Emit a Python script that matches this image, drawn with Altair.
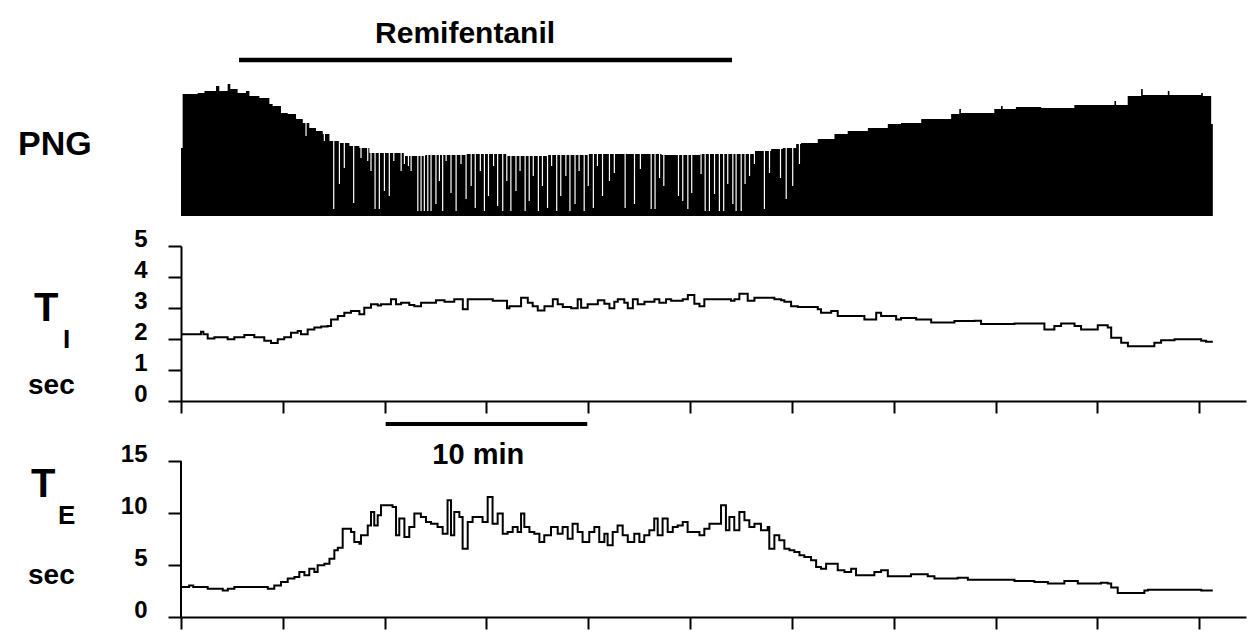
import altair as alt
import pandas as pd

FONT = "Liberation Sans"
XMAX = 52.3  # minutes covered by the time axis

# ---------------- PNG (integrated phrenic neurogram, arbitrary units) -------------
png_t = [0.0, 0.08, 0.82, 1.15, 1.72, 1.88, 2.29, 2.42, 2.78, 3.19, 3.36, 3.85, 4.34,
         4.5, 4.91, 5.24, 5.65, 5.98, 6.3, 6.63, 6.96, 7.29, 7.78, 8.27, 8.76, 9.25,
         10.97, 12.0, 14.0, 16.0, 18.0, 20.0, 23.6, 25.5, 28.16, 28.98, 29.55, 30.21,
         30.45, 31.27, 32.09, 32.74, 33.73, 34.71, 35.36, 36.35, 37.82, 38.22, 38.3,
         39.94, 40.27, 40.35, 41.0, 42.24, 43.87, 45.84, 45.92, 46.49, 47.15, 47.23,
         48.46, 48.54, 50.1, 50.18, 50.59, 50.67]
png_v = [68, 122, 123, 125, 130, 125, 132, 127, 123, 125, 120, 118, 112,
         110, 103, 102, 97, 93, 88, 85, 82, 75, 73, 70, 68, 63,
         60, 61, 62, 60, 61, 62, 61, 62, 65, 67, 68, 72,
         73, 77, 82, 85, 88, 92, 93, 97, 102, 107, 103,
         107, 110, 107, 109, 108, 111, 115, 111, 120, 127, 121,
         125, 121, 123, 120, 92, 92]

# white gaps between breaths (time, lower end of the gap)
gap_t = [6.14, 7.04, 7.5, 7.78, 8.02, 8.48, 8.84, 9.17, 9.33, 9.53, 9.74, 9.99, 10.23,
         10.45, 10.81, 10.97, 11.17, 11.3, 11.63, 11.79, 11.95, 12.12, 12.28, 12.52,
         12.69, 12.85, 13.02, 13.26, 13.51, 13.75, 14.0,
         14.25, 14.45, 14.7, 14.9, 15.1, 15.35, 15.55, 15.8, 16.0, 16.2, 16.45, 16.65,
         16.9, 17.1, 17.3, 17.55, 17.75, 18.0, 18.2, 18.45, 18.65, 18.9, 19.1, 19.35,
         19.55, 19.8, 20.0, 20.25, 20.45, 20.7,
         21.04, 21.28, 21.81, 22.27, 22.56, 23.09, 23.28, 23.5, 23.71, 24.43, 24.64,
         24.89, 25.08, 25.54, 25.74, 25.95, 26.2, 26.44, 26.65, 26.85, 27.1, 27.26,
         27.51, 27.7, 27.92, 28.16, 28.65, 28.9, 29.44, 29.72, 30.04, 30.37]
gap_low = [80, 75, 7, 32, 48, 13, 58, 55, 45, 7, 7, 25, 20,
           55, 45, 52, 50, 45, 5, 5, 5, 5, 5, 12,
           35, 5, 55, 23, 5, 52, 17,
           30, 8, 45, 5, 20, 50, 10, 5, 35, 5, 25, 45,
           5, 15, 40, 5, 30, 8, 50, 5, 20, 40, 5, 12,
           45, 5, 30, 8, 50, 20,
           35, 43, 8, 12, 47, 7, 7, 38, 30, 20, 15,
           7, 23, 42, 5, 5, 22, 5, 5, 32, 12, 5,
           5, 32, 40, 52, 7, 43, 38, 17, 30, 52]

# ---------------- T_I (s) ----------------
ti_t = [0.0, 0.98, 1.1, 1.31, 1.64, 2.29, 2.62, 3.11, 3.6, 4.09, 4.42, 4.75, 5.07,
        5.4, 5.73, 5.89, 6.22, 6.55, 6.88, 7.2, 7.37, 7.7, 8.02, 8.35, 8.76, 9.0,
        9.33, 9.66, 9.82, 10.31, 10.56, 10.81, 11.21, 11.46, 11.79, 12.52, 12.94,
        13.42, 13.84, 14.08, 15.31, 16.01, 16.13, 16.7, 17.03, 17.27, 17.52, 17.85,
        18.26, 18.5, 18.75, 19.16, 19.48, 19.65, 19.97, 20.47, 20.79, 21.04, 21.28,
        21.45, 21.77, 21.94, 22.19, 22.43, 22.76, 23.25, 23.49, 23.82, 24.07, 24.64,
        24.89, 25.21, 25.46, 25.7, 27.01, 27.18, 27.42, 27.83, 28.16, 29.14, 29.47,
        29.63, 29.96, 30.29, 31.27, 31.43, 31.93, 32.25, 33.56, 34.14, 34.38, 35.12,
        35.36, 36.1, 36.84, 37.98, 38.97, 39.29, 40.93, 42.4, 42.89, 43.22, 43.88,
        44.2, 45.02, 45.51, 45.68, 46.17, 46.5, 47.8, 48.13, 48.79, 50.1, 50.34, 50.67]
ti_v = [2.15, 2.23, 2.15, 2.02, 2.06, 1.99, 2.06, 2.13, 2.06, 1.94, 1.87, 1.99, 2.06,
        2.2, 2.26, 2.15, 2.31, 2.37, 2.4, 2.42, 2.63, 2.74, 2.85, 2.9, 2.8, 3.01,
        3.12, 3.08, 3.12, 3.28, 3.12, 3.17, 3.1, 3.06, 3.17, 3.25, 3.2,
        3.28, 2.96, 3.28, 3.23, 2.99, 3.06, 3.33, 3.17, 3.06, 2.92, 3.06,
        3.28, 3.12, 3.03, 2.99, 3.28, 3.01, 3.12, 3.25, 3.14, 2.99, 3.2,
        3.28, 3.17, 2.99, 3.28, 3.12, 3.2, 3.28, 3.17, 3.28, 3.23, 3.28,
        3.42, 3.14, 3.06, 3.28, 3.23, 3.28, 3.46, 3.23, 3.33, 3.28, 3.25,
        3.2, 3.06, 3.03, 2.96, 2.85, 2.9, 2.74, 2.63, 2.85, 2.74, 2.63,
        2.68, 2.63, 2.53, 2.58, 2.59, 2.48, 2.5, 2.31, 2.42, 2.5, 2.42,
        2.31, 2.44, 2.37, 2.04, 1.88, 1.77, 1.88, 1.96, 1.99, 1.94, 1.91, 1.91]

# ---------------- T_E (s) ----------------
te_t = [0.0, 0.4, 0.6, 1.31, 2.05, 2.3, 2.62, 4.26, 4.58, 4.91, 5.24, 5.57, 5.81, 6.06,
        6.3, 6.55, 6.71, 7.04, 7.29, 7.53, 7.7, 7.94, 8.35, 8.51, 8.76, 8.84, 9.17,
        9.33, 9.49, 9.66, 9.82, 10.39, 10.56, 10.72, 10.97, 11.21, 11.46, 11.78, 12.03,
        12.28, 12.6, 12.85, 13.09, 13.26, 13.42, 13.67, 13.83, 14.08, 14.32, 14.81,
        15.06, 15.3, 15.55, 15.8, 16.04, 16.29, 16.53, 16.7, 16.86, 17.11, 17.35, 17.6,
        17.84, 18.17, 18.5, 18.74, 18.99, 19.23, 19.48, 19.72, 20.05, 20.3, 20.54,
        20.79, 20.95, 21.2, 21.44, 21.69, 21.94, 22.26, 22.51, 22.75, 23.0, 23.24,
        23.41, 23.65, 23.9, 24.15, 24.39, 24.64, 24.88, 25.46, 25.7, 25.95, 26.52,
        26.76, 26.93, 27.17, 27.42, 27.67, 27.91, 28.16, 28.48, 28.81, 28.89, 29.14,
        29.38, 29.63, 29.88, 30.12, 30.37, 30.61, 30.94, 31.19, 31.43, 31.68, 32.0,
        32.25, 32.58, 32.91, 33.15, 34.05, 34.38, 34.71, 35.85, 36.67, 37.0, 38.14,
        38.64, 40.93, 41.91, 42.57, 43.38, 44.04, 45.18, 45.51, 45.68, 46.0, 47.31,
        47.48, 50.1, 50.67]
te_v = [2.88, 3.04, 2.88, 2.72, 2.56, 2.72, 2.88, 2.72, 3.04, 3.37, 3.69, 3.85, 4.33, 4.01,
        4.65, 4.33, 4.97, 5.13, 5.61, 6.41, 6.67, 8.49, 8.17, 7.21, 7.05, 7.85, 8.81,
        10.1, 8.81, 9.78, 10.74, 10.58, 7.85, 9.46, 7.69, 8.65, 9.94, 9.62, 9.13,
        8.97, 8.65, 8.01, 11.22, 7.85, 10.1, 9.62, 6.57, 9.13, 9.62, 9.13,
        11.54, 8.97, 9.94, 8.01, 8.17, 8.65, 8.17, 9.94, 8.65, 8.17, 8.01, 7.21,
        7.85, 8.65, 8.01, 8.65, 7.53, 8.97, 8.17, 7.21, 8.17, 8.65, 7.21,
        8.01, 6.89, 8.17, 8.81, 7.85, 7.21, 8.01, 7.21, 7.85, 8.33, 9.46,
        7.85, 9.46, 8.17, 8.65, 8.81, 9.13, 8.17, 7.85, 8.49, 8.97, 10.74,
        8.33, 9.62, 8.33, 10.1, 9.3, 8.65, 8.97, 8.33, 8.65, 6.57, 7.85,
        7.37, 6.57, 6.41, 6.25, 5.93, 5.77, 5.45, 4.81, 4.65, 5.13, 5.13,
        4.49, 4.33, 4.65, 4.01, 4.33, 4.49, 3.91, 4.11, 3.91, 3.69, 3.78,
        3.59, 3.46, 3.37, 3.21, 3.46, 3.21, 3.3, 3.21, 2.83, 2.31, 2.56,
        2.63, 2.56, 2.56]

# annotations (times in minutes)
remi_start, remi_end, remi_label_t = [2.85], [27.06], [13.95]
scale_start, scale_end, scale_label_t = [10.05], [19.95], [14.6]
x_ticks = [0, 5, 10, 15, 20, 25, 30, 35, 40, 45, 50]
ti_ticks = [0, 1, 2, 3, 4, 5]
te_ticks = [0, 5, 10, 15]

W = 1065
xs = alt.Scale(domain=[0, XMAX], nice=False, zero=False)


def label(text, x, y, size):
    return alt.Chart(pd.DataFrame({"s": [text]})).mark_text(
        align="left", baseline="alphabetic", font=FONT, fontWeight="bold",
        fontSize=size, color="black").encode(x=alt.value(x), y=alt.value(y), text="s:N")


# ---------------- panel 1: PNG ----------------
png_df = pd.DataFrame({"t": png_t, "v": png_v})
gap_df = pd.DataFrame({"t": gap_t, "low": gap_low})
remi_df = pd.DataFrame({"a": remi_start, "b": remi_end, "m": remi_label_t, "s": ["Remifentanil"]})
py = alt.Scale(domain=[0, 207], nice=False, zero=False)

png_area = alt.Chart(png_df).mark_area(interpolate="step-after", color="black").encode(
    x=alt.X("t:Q", scale=xs, axis=None), y=alt.Y("v:Q", scale=py, axis=None))
gaps = alt.Chart(gap_df).mark_rule(color="white", strokeWidth=1.2).encode(
    x=alt.X("t:Q", scale=xs), y=alt.Y("low:Q", scale=py), y2=alt.datum(140))
remi_rule = alt.Chart(remi_df).mark_rule(color="black", strokeWidth=4.5).encode(
    x=alt.X("a:Q", scale=xs), x2="b:Q", y=alt.value(51))
remi_text = alt.Chart(remi_df).mark_text(
    font=FONT, fontWeight="bold", fontSize=30, baseline="alphabetic", align="center",
    color="black").encode(x=alt.X("m:Q", scale=xs), y=alt.value(34), text="s:N")
anchor = alt.Chart(pd.DataFrame({"s": [""]})).mark_rule(color="white").encode(
    x=alt.value(-172), x2=alt.value(-171), y=alt.value(0), y2=alt.value(1))

p1 = alt.layer(png_area, gaps, remi_rule, remi_text, label("PNG", -163, 146, 34), anchor
               ).properties(width=W, height=207)

# ---------------- panel 2: T_I ----------------
x_axis = alt.Axis(values=x_ticks, labels=False, tickSize=12, title=None)
ti_df = pd.DataFrame({"t": ti_t, "v": ti_v})
ti_line = alt.Chart(ti_df).mark_line(interpolate="step-after", color="black", strokeWidth=2).encode(
    x=alt.X("t:Q", scale=xs, axis=x_axis),
    y=alt.Y("v:Q", scale=alt.Scale(domain=[0, 5], nice=False),
            axis=alt.Axis(values=ti_ticks, tickSize=13, labelPadding=21,
                          labelBaseline="alphabetic", title=None)))
p2 = alt.layer(ti_line, label("T", -147, 75, 40), label("I", -118, 102, 26),
               label("sec", -153, 148, 28)).properties(width=W, height=155)

# ---------------- panel 3: T_E ----------------
# the panel starts 30 px above the "15" tick so that the "10 min" bar fits in it
TE_TOP = 15 * 186 / 156
te_df = pd.DataFrame({"t": te_t, "v": te_v})
scale_df = pd.DataFrame({"a": scale_start, "b": scale_end, "m": scale_label_t, "s": ["10 min"]})
te_y = alt.Scale(domain=[0, TE_TOP], nice=False)
te_line = alt.Chart(te_df).mark_line(interpolate="step-after", color="black", strokeWidth=2).encode(
    x=alt.X("t:Q", scale=xs, axis=x_axis),
    y=alt.Y("v:Q", scale=te_y,
            axis=alt.Axis(values=te_ticks, tickSize=13, labelPadding=21, domain=False,
                          labelBaseline="alphabetic", title=None)))
te_domain = alt.Chart(pd.DataFrame({"lo": [te_ticks[0]], "hi": [te_ticks[-1]]})).mark_rule(
    color="black", strokeWidth=2).encode(
    x=alt.value(0), y=alt.Y("lo:Q", scale=te_y), y2="hi:Q")
scale_rule = alt.Chart(scale_df).mark_rule(color="black", strokeWidth=4).encode(
    x=alt.X("a:Q", scale=xs), x2="b:Q", y=alt.value(-7))
scale_text = alt.Chart(scale_df).mark_text(
    font=FONT, fontWeight="bold", fontSize=29, baseline="alphabetic", align="center",
    color="black").encode(x=alt.X("m:Q", scale=xs), y=alt.value(33), text="s:N")
p3 = alt.layer(te_line, te_domain, scale_rule, scale_text, label("T", -150, 66, 40),
               label("E", -123, 93, 26), label("sec", -153, 153, 28)
               ).properties(width=W, height=186)

chart = alt.vconcat(p1, p2, p3, spacing=30, bounds="flush").properties(
    padding={"left": 0, "top": 0, "right": 0, "bottom": 0}
).configure_axis(
    domainColor="black", domainWidth=2, tickColor="black", tickWidth=2,
    labelFont=FONT, labelFontSize=24, labelFontWeight="bold", labelColor="black",
    grid=False
).configure_view(stroke="transparent")

chart.save("out.html", embed_options={"renderer": "svg", "actions": False})
